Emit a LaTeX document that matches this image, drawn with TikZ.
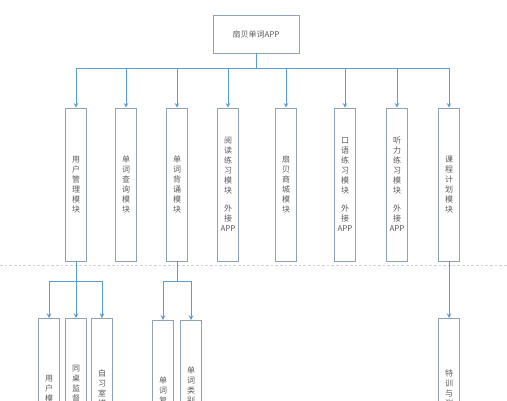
\documentclass[tikz,border=0pt]{standalone}
\usepackage{fontspec}
\setmainfont{Noto Sans CJK SC}
\usepackage{xcolor}
\usepackage{tikz}
\definecolor{boxgray}{HTML}{8FA3B8}
\definecolor{linkblue}{HTML}{5B9BD5}
\definecolor{txtgray}{HTML}{595959}

\begin{document}
\begin{tikzpicture}[x=0.75pt, y=-0.75pt,
		topbox/.style={draw=boxgray, minimum width=64.5pt, minimum height=28.5pt, inner sep=0pt, text=txtgray, font=\fontsize{6}{7.5}\selectfont},
		modbox/.style={draw=boxgray, minimum width=15.75pt, minimum height=114.75pt, inner sep=0pt, align=center, text=txtgray, font=\fontsize{6}{7.5}\selectfont},
		subbox/.style={modbox, anchor=north, minimum height=112.5pt},
		link/.style={draw=linkblue, line width=0.6pt}]
		\useasboundingbox (0,0) rectangle (507,400);
		\draw[gray!35, dash pattern=on 2pt off 1.5pt] (0,265) -- (507,265);
		\node[topbox] (app) at (256,34) {扇贝单词APP};
		\coordinate (bus) at (256,68);
		% MODULES
		\node[modbox] (user) at (76,184.5) {用\\户\\管\\理\\模\\块};
		\node[modbox] (query) at (126,184.5) {单\\词\\查\\询\\模\\块};
		\node[modbox] (recite) at (177,184.5) {单\\词\\背\\诵\\模\\块};
		\node[modbox] (read) at (228,184.5) {阅\\读\\练\\习\\模\\块\\[6pt]外\\接\\APP};
		\node[modbox] (shop) at (286,184.5) {扇\\贝\\商\\城\\模\\块};
		\node[modbox] (speak) at (345,184.5) {口\\语\\练\\习\\模\\块\\[6pt]外\\接\\APP};
		\node[modbox] (listen) at (397,184.5) {听\\力\\练\\习\\模\\块\\[6pt]外\\接\\APP};
		\node[modbox] (plan) at (449,184.5) {课\\程\\计\\划\\模\\块};
		\draw[link] (app.south) -- (bus);
		\draw[link, -stealth] (bus) -| (user.north);
		\draw[link, -stealth] (bus) -| (query.north);
		\draw[link, -stealth] (bus) -| (recite.north);
		\draw[link, -stealth] (bus) -| (read.north);
		\draw[link, -stealth] (bus) -| (shop.north);
		\draw[link, -stealth] (bus) -| (speak.north);
		\draw[link, -stealth] (bus) -| (listen.north);
		\draw[link, -stealth] (bus) -| (plan.north);
		% SUB MODULES
		\node[subbox] (login) at (49,318) {用\\户\\模\\块};
		\node[subbox] (desk) at (76,318) {同\\桌\\监\\督\\模\\块};
		\node[subbox] (room) at (102,318) {自\\习\\室\\模\\块};
		\node[subbox] (review) at (163,320) {单\\词\\复\\习};
		\node[subbox] (kind) at (191,320) {单\\词\\类\\别\\模\\块};
		\node[subbox] (train) at (449,318) {特\\训\\与\\测\\试};
		\coordinate (userbus) at (76,281);
		\coordinate (recitebus) at (177,281);
		\draw[link] (user.south) -- (userbus);
		\draw[link, -stealth] (userbus) -| (login.north);
		\draw[link, -stealth] (userbus) -| (desk.north);
		\draw[link, -stealth] (userbus) -| (room.north);
		\draw[link] (recite.south) -- (recitebus);
		\draw[link, -stealth] (recitebus) -| (review.north);
		\draw[link, -stealth] (recitebus) -| (kind.north);
		\draw[link, -stealth] (plan.south) -- (train.north);
	\end{tikzpicture}
\end{document}
